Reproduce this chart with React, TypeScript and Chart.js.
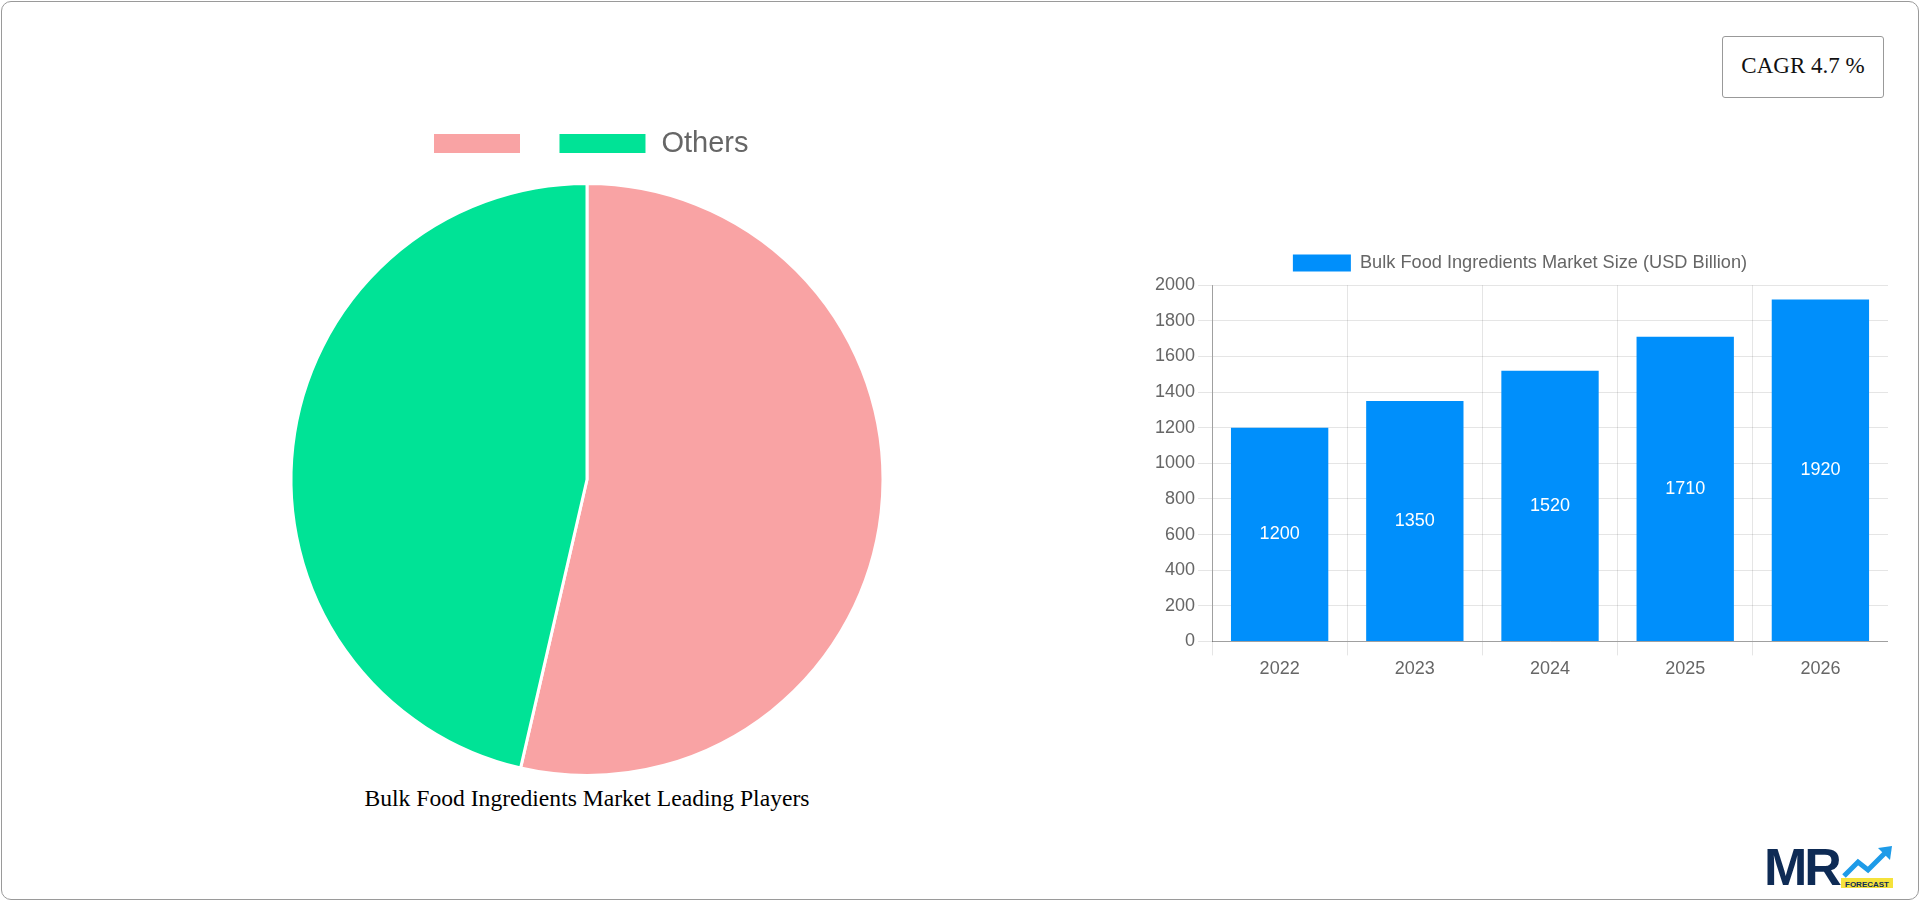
import React, { useEffect, useRef } from "react";
import { Chart, registerables } from "chart.js";
Chart.register(...registerables);

const pieLabels = ["", "Others"];
const pieValues = [53.6, 46.4];
const pieColors = ["#F9A3A4", "#00E396"];

const years = ["2022", "2023", "2024", "2025", "2026"];
const marketSize = [1200, 1350, 1520, 1710, 1920];
const barLabel = "Bulk Food Ingredients Market Size (USD Billion)";
const barColor = "#008FFB";
const cagrText = "CAGR 4.7 %";
const pieTitle = "Bulk Food Ingredients Market Leading Players";

const SANS = "'Liberation Sans', Arial, Helvetica, sans-serif";
const SERIF = "'Liberation Serif', 'Times New Roman', serif";

const barValuePlugin = {
  id: "barValues",
  afterDatasetsDraw(chart: any) {
    const ctx = chart.ctx;
    const meta = chart.getDatasetMeta(0);
    ctx.save();
    ctx.fillStyle = "#ffffff";
    ctx.font = "18px " + SANS;
    ctx.textAlign = "center";
    ctx.textBaseline = "middle";
    meta.data.forEach((el: any, i: number) => {
      const p = el.getProps(["x", "y", "base"], true);
      ctx.fillText(String(chart.data.datasets[0].data[i]), p.x, (p.y + p.base) / 2);
    });
    ctx.restore();
  },
};

function legendGap(extra: number, dx: number) {
  return {
    id: "legendGap",
    beforeLayout(chart: any) {
      const legend = chart.legend;
      if (legend && !legend.__gapPatched) {
        const orig = legend.fit;
        legend.fit = function (this: any) {
          orig.call(this);
          this.height += extra;
        };
        legend.__gapPatched = true;
      }
    },
    afterLayout(chart: any) {
      const legend = chart.legend;
      if (legend && dx) {
        legend.left += dx;
        legend.right += dx;
      }
    },
  };
}

function PieChart() {
  const ref = useRef<HTMLCanvasElement | null>(null);
  useEffect(() => {
    if (!ref.current) return;
    const chart = new Chart(ref.current, {
      type: "pie",
      data: {
        labels: pieLabels,
        datasets: [
          {
            data: pieValues,
            backgroundColor: pieColors,
            borderColor: "#ffffff",
            borderWidth: 3,
          },
        ],
      },
      options: {
        responsive: true,
        maintainAspectRatio: false,
        animation: false,
        plugins: {
          legend: {
            position: "top",
            labels: {
              boxWidth: 89,
              boxHeight: 22,
              padding: 22,
              color: "#666666",
              font: { size: 29, family: SANS },
            },
          },
          tooltip: { enabled: false },
        },
      },
      plugins: [legendGap(14, 3.5)],
    });
    return () => chart.destroy();
  }, []);
  return (
    <div style={{ position: "absolute", left: 237, top: 107, width: 700, height: 670 }}>
      <canvas ref={ref} />
    </div>
  );
}

function BarChart() {
  const ref = useRef<HTMLCanvasElement | null>(null);
  useEffect(() => {
    if (!ref.current) return;
    const chart = new Chart(ref.current, {
      type: "bar",
      data: {
        labels: years,
        datasets: [
          {
            label: barLabel,
            data: marketSize,
            backgroundColor: barColor,
          },
        ],
      },
      options: {
        responsive: true,
        maintainAspectRatio: false,
        animation: false,
        plugins: {
          legend: {
            position: "top",
            labels: {
              boxWidth: 58,
              boxHeight: 17,
              color: "#666666",
              font: { size: 18.2, family: SANS },
            },
          },
          tooltip: { enabled: false },
        },
        scales: {
          x: {
            grid: { color: "rgba(0,0,0,0.1)", tickLength: 14 },
            border: { color: "rgba(0,0,0,0.3)" },
            ticks: { color: "#666666", font: { size: 18, family: SANS }, padding: 3 },
          },
          y: {
            min: 0,
            max: 2000,
            grid: { color: "rgba(0,0,0,0.1)", tickLength: 14 },
            border: { color: "rgba(0,0,0,0.3)" },
            ticks: {
              stepSize: 200,
              color: "#666666",
              font: { size: 18, family: SANS },
              padding: 3,
              callback: (v: any) => String(v),
            },
          },
        },
      },
      plugins: [barValuePlugin, legendGap(3, 0)],
    });
    return () => chart.destroy();
  }, []);
  return (
    <div style={{ position: "absolute", left: 1152, top: 244, width: 736, height: 439 }}>
      <canvas ref={ref} />
    </div>
  );
}

function Logo() {
  return (
    <svg style={{ position: "absolute", left: 1760, top: 838 }} width={136} height={54} viewBox="0 0 136 54">
      <text x={4} y={47} fontFamily={SANS} fontWeight={700} fontSize={52} fill="#0E2B55" letterSpacing={-3}>
        MR
      </text>
      <polyline points="84,38 98,24 108,32 126,14" fill="none" stroke="#1E9BE8" strokeWidth={5} />
      <polygon points="118,10 132,8 130,22" fill="#1E9BE8" />
      <rect x={81} y={40} width={52} height={10} fill="#F5E23B" />
      <text x={107} y={48.5} textAnchor="middle" fontFamily={SANS} fontWeight={700} fontSize={8} fill="#0E2B55">
        FORECAST
      </text>
    </svg>
  );
}

export default function App() {
  return (
    <div
      style={{
        position: "fixed",
        left: 0,
        top: 0,
        width: 1920,
        height: 901,
        background: "#ffffff",
        overflow: "hidden",
      }}
    >
      <div
        style={{
          position: "absolute",
          left: 1,
          top: 1,
          width: 1918,
          height: 899,
          boxSizing: "border-box",
          border: "1px solid #9a9a9a",
          borderRadius: 10,
        }}
      />
      <div
        style={{
          position: "absolute",
          left: 1722,
          top: 36,
          width: 162,
          height: 62,
          boxSizing: "border-box",
          border: "1px solid #999999",
          borderRadius: 3,
          display: "flex",
          alignItems: "center",
          justifyContent: "center",
          paddingBottom: 3,
          fontFamily: SERIF,
          fontSize: 23,
          color: "#111111",
        }}
      >
        {cagrText}
      </div>
      <PieChart />
      <div
        style={{
          position: "absolute",
          left: 287,
          top: 784,
          width: 600,
          textAlign: "center",
          fontFamily: SERIF,
          fontSize: 23.6,
          color: "#000000",
          lineHeight: "28px",
        }}
      >
        {pieTitle}
      </div>
      <BarChart />
      <Logo />
    </div>
  );
}
